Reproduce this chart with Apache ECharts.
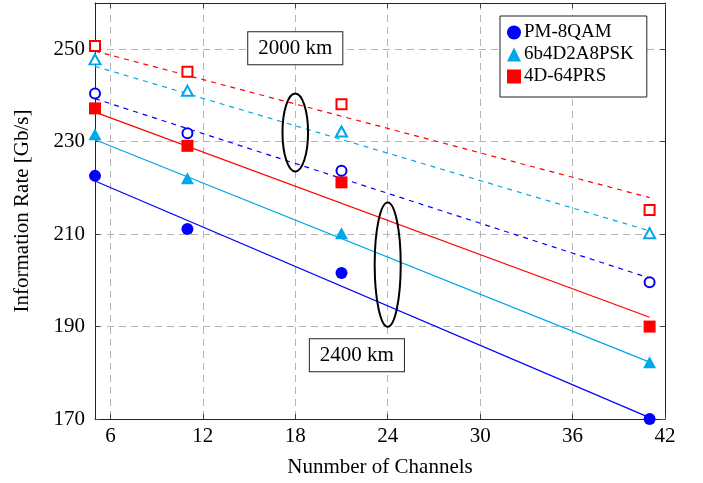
<!DOCTYPE html>
<html>
<head>
<meta charset="utf-8">
<script src="https://cdn.jsdelivr.net/npm/echarts@6/dist/echarts.min.js"></script>
<style>html,body{margin:0;padding:0;background:#fff}#c{width:703px;height:483px}</style>
</head>
<body>
<div id="c"></div>
<script>
// ---- data ----
const channels = [5, 11, 21, 41];
const pm8qam2400 = [222.6, 211.1, 201.6, 170.0];
const pm8qam2000 = [240.4, 231.8, 223.7, 199.6];
const psk2400 = [231.6, 222.1, 210.2, 182.3];
const psk2000 = [247.8, 241.0, 232.2, 210.2];
const prs2400 = [237.2, 229.1, 221.2, 190.0];
const prs2000 = [250.7, 245.1, 238.1, 215.2];
// linear-fit endpoints (at fitX)
const fitX = [5, 41];
const fitPm2400 = [221.5, 170.3];
const fitPm2000 = [239.3, 200.5];
const fitPsk2400 = [230.4, 182.3];
const fitPsk2000 = [246.3, 210.7];
const fitPrs2400 = [236.4, 192.0];
const fitPrs2000 = [249.6, 217.9];
const xTicks = [6, 12, 18, 24, 30, 36, 42];
const yTicks = [170, 190, 210, 230, 250];
const seriesNames = ['PM-8QAM', '6b4D2A8PSK', '4D-64PRS'];
// annotations: [x, y] centres, radii in data units
const ellipse2000 = {cx: 18, cy: 232.0, rx: 0.83, ry: 8.43};
const ellipse2400 = {cx: 24, cy: 203.4, rx: 0.845, ry: 13.45};
const label2000 = {text: '2000 km', x: 18, y: 250.2};
const label2400 = {text: '2400 km', x: 22.0, y: 183.8};

const BLUE = '#0000ff', CYAN = '#00a8e8', RED = '#ff0000';
const FONT = 'Liberation Serif';

const zip = (xs, ys) => xs.map((x, i) => [x, ys[i]]);

function scatter(name, data, color, symbol, filled, size) {
  return {
    type: 'scatter', name, data: zip(channels, data), symbol,
    symbolSize: size, z: 5,
    itemStyle: filled ? {color: color, borderWidth: 0, opacity: 1}
                      : {color: '#fff', borderColor: color, borderWidth: 2, opacity: 1},
    emphasis: {disabled: true}
  };
}
function fit(name, ys, color, dashed) {
  return {
    type: 'line', name, data: zip(fitX, ys), symbol: 'none', z: 3,
    lineStyle: {color, width: 1.2, type: dashed ? [5, 5] : 'solid'},
    emphasis: {disabled: true}, silent: true
  };
}

const chart = echarts.init(document.getElementById('c'));
const axisLine = {show: true, lineStyle: {color: '#222', width: 1}};
const option = {
  animation: false,
  backgroundColor: '#fff',
  grid: {left: 95, right: 38, top: 3, bottom: 63, show: false},
  legend: {
    orient: 'vertical', left: 500, top: 16,
    data: seriesNames.map(n => ({name: n})),
    itemWidth: 14, itemHeight: 14, itemGap: 3,
    padding: [7, 13, 11, 7],
    borderColor: '#222', borderWidth: 1, backgroundColor: '#fff',
    textStyle: {fontFamily: FONT, fontSize: 19, color: '#000', padding: [0,0,0,-2]},
    selectedMode: false
  },
  xAxis: [{
    type: 'value', min: 5, max: 42,
    name: 'Nunmber of Channels', nameLocation: 'middle', nameGap: 38,
    nameTextStyle: {fontFamily: FONT, fontSize: 21, color: '#000'},
    axisLine,
    axisTick: {show: true, inside: true, length: 5, customValues: xTicks, lineStyle: {color: '#444'}},
    axisLabel: {customValues: xTicks, fontFamily: FONT, fontSize: 21, color: '#000', margin: 7},
    splitLine: {show: true, lineStyle: {color: '#b4b4b4', type: [7, 5], width: 1}}
  }, {
    type: 'value', min: 5, max: 42, position: 'top',
    axisLine,
    axisTick: {show: true, inside: true, length: 5, customValues: xTicks, lineStyle: {color: '#444'}},
    axisLabel: {show: false}, splitLine: {show: false}
  }],
  yAxis: [{
    type: 'value', min: 170, max: 260, interval: 20,
    name: 'Information Rate [Gb/s]', nameLocation: 'middle', nameGap: 62,
    nameTextStyle: {fontFamily: FONT, fontSize: 21, color: '#000'},
    axisLine,
    axisTick: {show: true, inside: true, length: 5, customValues: yTicks, lineStyle: {color: '#444'}},
    axisLabel: {customValues: yTicks, fontFamily: FONT, fontSize: 21, color: '#000', margin: 10},
    splitLine: {show: true, lineStyle: {color: '#b4b4b4', type: [7, 5], width: 1}}
  }, {
    type: 'value', min: 170, max: 260, interval: 20, position: 'right',
    axisLine,
    axisTick: {show: true, inside: true, length: 5, customValues: yTicks, lineStyle: {color: '#444'}},
    axisLabel: {show: false}, splitLine: {show: false}
  }],
  series: [
    fit('fit pm 2400', fitPm2400, BLUE, false),
    fit('fit psk 2400', fitPsk2400, CYAN, false),
    fit('fit prs 2400', fitPrs2400, RED, false),
    fit('fit pm 2000', fitPm2000, BLUE, true),
    fit('fit psk 2000', fitPsk2000, CYAN, true),
    fit('fit prs 2000', fitPrs2000, RED, true),
    scatter(seriesNames[0], pm8qam2400, BLUE, 'circle', true, 12),
    scatter(seriesNames[1], psk2400, CYAN, 'triangle', true, [13, 12]),
    scatter(seriesNames[2], prs2400, RED, 'rect', true, 12),
    scatter('PM-8QAM 2000 km', pm8qam2000, BLUE, 'circle', false, 10),
    scatter('6b4D2A8PSK 2000 km', psk2000, CYAN, 'triangle', false, [11, 10]),
    scatter('4D-64PRS 2000 km', prs2000, RED, 'rect', false, 10)
  ]
};
chart.setOption(option);

function ellipseGraphic(e) {
  const c = chart.convertToPixel({gridIndex: 0}, [e.cx, e.cy]);
  const p = chart.convertToPixel({gridIndex: 0}, [e.cx + e.rx, e.cy + e.ry]);
  return {
    type: 'ellipse', z: 10,
    shape: {cx: c[0], cy: c[1], rx: Math.abs(p[0] - c[0]), ry: Math.abs(c[1] - p[1])},
    style: {fill: null, stroke: '#000', lineWidth: 2}
  };
}
function labelGraphic(l) {
  const c = chart.convertToPixel({gridIndex: 0}, [l.x, l.y]);
  return {
    type: 'text', z: 10, x: c[0], y: c[1],
    style: {
      text: l.text, font: '21px "Liberation Serif"', fill: '#000',
      align: 'center', verticalAlign: 'middle',
      backgroundColor: '#fff', borderColor: '#222', borderWidth: 1,
      padding: [6, 10, 5, 10]
    }
  };
}
chart.setOption({graphic: [ellipseGraphic(ellipse2000), ellipseGraphic(ellipse2400), labelGraphic(label2000), labelGraphic(label2400)]});
</script>
</body>
</html>
